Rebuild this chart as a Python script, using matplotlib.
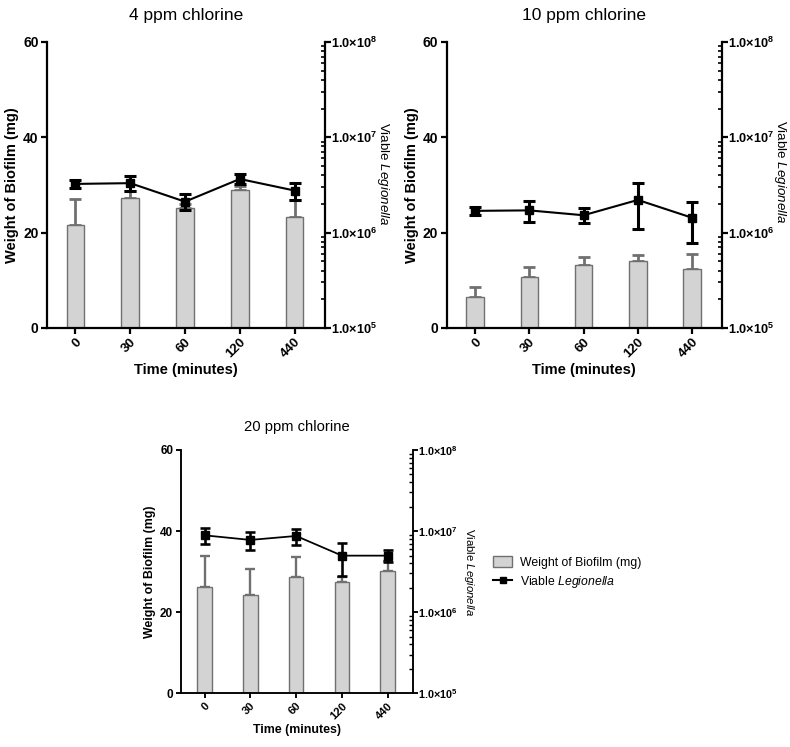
import matplotlib
matplotlib.use("Agg")
import matplotlib.pyplot as plt
import numpy as np
from matplotlib.patches import Patch
from matplotlib.lines import Line2D
from matplotlib.ticker import LogLocator, FixedLocator, NullFormatter

plt.rcParams['font.family'] = ['Liberation Sans', 'DejaVu Sans']
plt.rcParams['mathtext.fontset'] = 'custom'
plt.rcParams['mathtext.rm'] = 'Liberation Sans'
plt.rcParams['mathtext.bf'] = 'Liberation Sans:bold'
plt.rcParams['mathtext.it'] = 'Liberation Sans:italic'

categories = ['0', '30', '60', '120', '440']

titles = ['4 ppm chlorine', '10 ppm chlorine', '20 ppm chlorine']

biofilm_4 = [21.5, 27.2, 25.1, 29.0, 23.2]
biofilm_err_4 = [5.6, 1.5, 1.0, 0.8, 3.7]
legion_4 = [3.24e6, 3.30e6, 2.11e6, 3.65e6, 2.76e6]
legion_err_4 = [0.28e6, 0.60e6, 0.40e6, 0.45e6, 0.56e6]

biofilm_10 = [6.5, 10.7, 13.1, 14.0, 12.4]
biofilm_err_10 = [2.0, 2.0, 1.8, 1.2, 3.2]
legion_10 = [1.69e6, 1.71e6, 1.52e6, 2.20e6, 1.43e6]
legion_err_10 = [0.17e6, 0.41e6, 0.27e6, 1.10e6, 0.65e6]

biofilm_20 = [26.1, 24.2, 28.7, 27.5, 30.2]
biofilm_err_20 = [7.8, 6.5, 4.9, 1.1, 2.5]
legion_20 = [8.87e6, 7.78e6, 8.71e6, 4.98e6, 4.98e6]
legion_err_20 = [2.0e6, 1.95e6, 1.9e6, 2.2e6, 0.8e6]

left_ticks = [0, 20, 40, 60]
right_ticks = [1e5, 1e6, 1e7, 1e8]
right_labels = [r'$\mathbf{1.0{\times}10^{5}}$', r'$\mathbf{1.0{\times}10^{6}}$',
                r'$\mathbf{1.0{\times}10^{7}}$', r'$\mathbf{1.0{\times}10^{8}}$']

fig = plt.figure(figsize=(7.9, 7.47), dpi=100)

BAR_FC = '#d3d3d3'
BAR_EC = '#707070'


def panel(rect, title, bars, bars_err, line, line_err, s=1.0, rlabel_x=1.21, rlabel_y=0.5):
    ax = fig.add_axes(rect)
    x = np.arange(len(categories))
    ax.bar(x, bars, width=0.32, color=BAR_FC, edgecolor=BAR_EC, linewidth=1.0, zorder=2)
    ax.errorbar(x, bars, yerr=[np.zeros(len(bars)), bars_err], fmt='none',
                ecolor=BAR_EC, elinewidth=2.0 * s, capsize=4 * s, capthick=2.0 * s, zorder=1)
    ax.set_xlim(-0.52, 4.55)
    ax.set_ylim(0, 60)
    ax.yaxis.set_major_locator(FixedLocator(left_ticks))
    ax.set_xticks(x)
    ax.set_xticklabels(categories, rotation=45, ha='right', rotation_mode='anchor',
                       fontsize=9.5 * s, fontweight='bold')
    for lab in ax.get_yticklabels():
        lab.set_fontsize(10 * s)
        lab.set_fontweight('bold')
    ax.spines['top'].set_visible(False)
    ax.spines['right'].set_visible(False)
    for sp in ['left', 'bottom']:
        ax.spines[sp].set_linewidth(1.6 * s)
    ax.tick_params(axis='both', width=1.6 * s, length=4 * s, pad=2)
    ax.set_xlabel('Time (minutes)', fontsize=10.5 * s, fontweight='bold', labelpad=2)
    ax.set_ylabel('Weight of Biofilm (mg)', fontsize=10.5 * s, fontweight='bold', labelpad=3)
    ax.set_title(title, fontsize=12.5 * s, pad=16 * s)

    ax2 = ax.twinx()
    ax2.set_yscale('log')
    ax2.set_ylim(1e5, 1e8)
    ax2.errorbar(x, line, yerr=line_err, fmt='-s', color='black', markersize=6 * s,
                 linewidth=1.5 * s, elinewidth=2.2 * s, capsize=4 * s, capthick=2.2 * s, zorder=5)
    ax2.yaxis.set_major_locator(FixedLocator(right_ticks))
    ax2.set_yticklabels(right_labels, fontsize=9.2 * s)
    ax2.yaxis.set_minor_locator(LogLocator(base=10, subs=np.arange(2, 10)))
    ax2.yaxis.set_minor_formatter(NullFormatter())
    ax2.spines['top'].set_visible(False)
    ax2.spines['left'].set_visible(False)
    ax2.spines['bottom'].set_visible(False)
    ax2.spines['right'].set_linewidth(1.6 * s)
    ax2.tick_params(axis='y', which='major', width=1.6 * s, length=4 * s, pad=0.5)
    ax2.tick_params(axis='y', which='minor', direction='in', width=1.2 * s, length=3 * s)
    ax2.set_ylabel(r'Viable $\mathit{Legionella}$', fontsize=9.6 * s, rotation=270)
    ax2.yaxis.label.set_va('center')
    ax2.yaxis.label.set_ha('center')
    ax2.yaxis.set_label_coords(rlabel_x, rlabel_y)
    return ax, ax2


panel([0.0595, 0.561, 0.3515, 0.3829], titles[0], biofilm_4, biofilm_err_4, legion_4, legion_err_4,
      rlabel_x=1.21, rlabel_y=0.54)
panel([0.5654, 0.561, 0.3486, 0.3829], titles[1], biofilm_10, biofilm_err_10, legion_10, legion_err_10,
      rlabel_x=1.212, rlabel_y=0.545)
panel([0.2287, 0.0719, 0.2941, 0.3257], titles[2], biofilm_20, biofilm_err_20, legion_20, legion_err_20,
      s=0.85, rlabel_x=1.24)

handles = [Patch(facecolor=BAR_FC, edgecolor=BAR_EC, linewidth=1.0),
           Line2D([0], [0], color='black', marker='s', markersize=5, linewidth=1.5)]
labels = ['Weight of Biofilm (mg)', r'Viable $\mathit{Legionella}$']
fig.legend(handles, labels, loc='center left', bbox_to_anchor=(0.61, 0.233), frameon=False,
           fontsize=8.8, handlelength=1.6, handleheight=1.1, handletextpad=0.6, labelspacing=0.45)

fig.savefig('out.png', dpi=100)
